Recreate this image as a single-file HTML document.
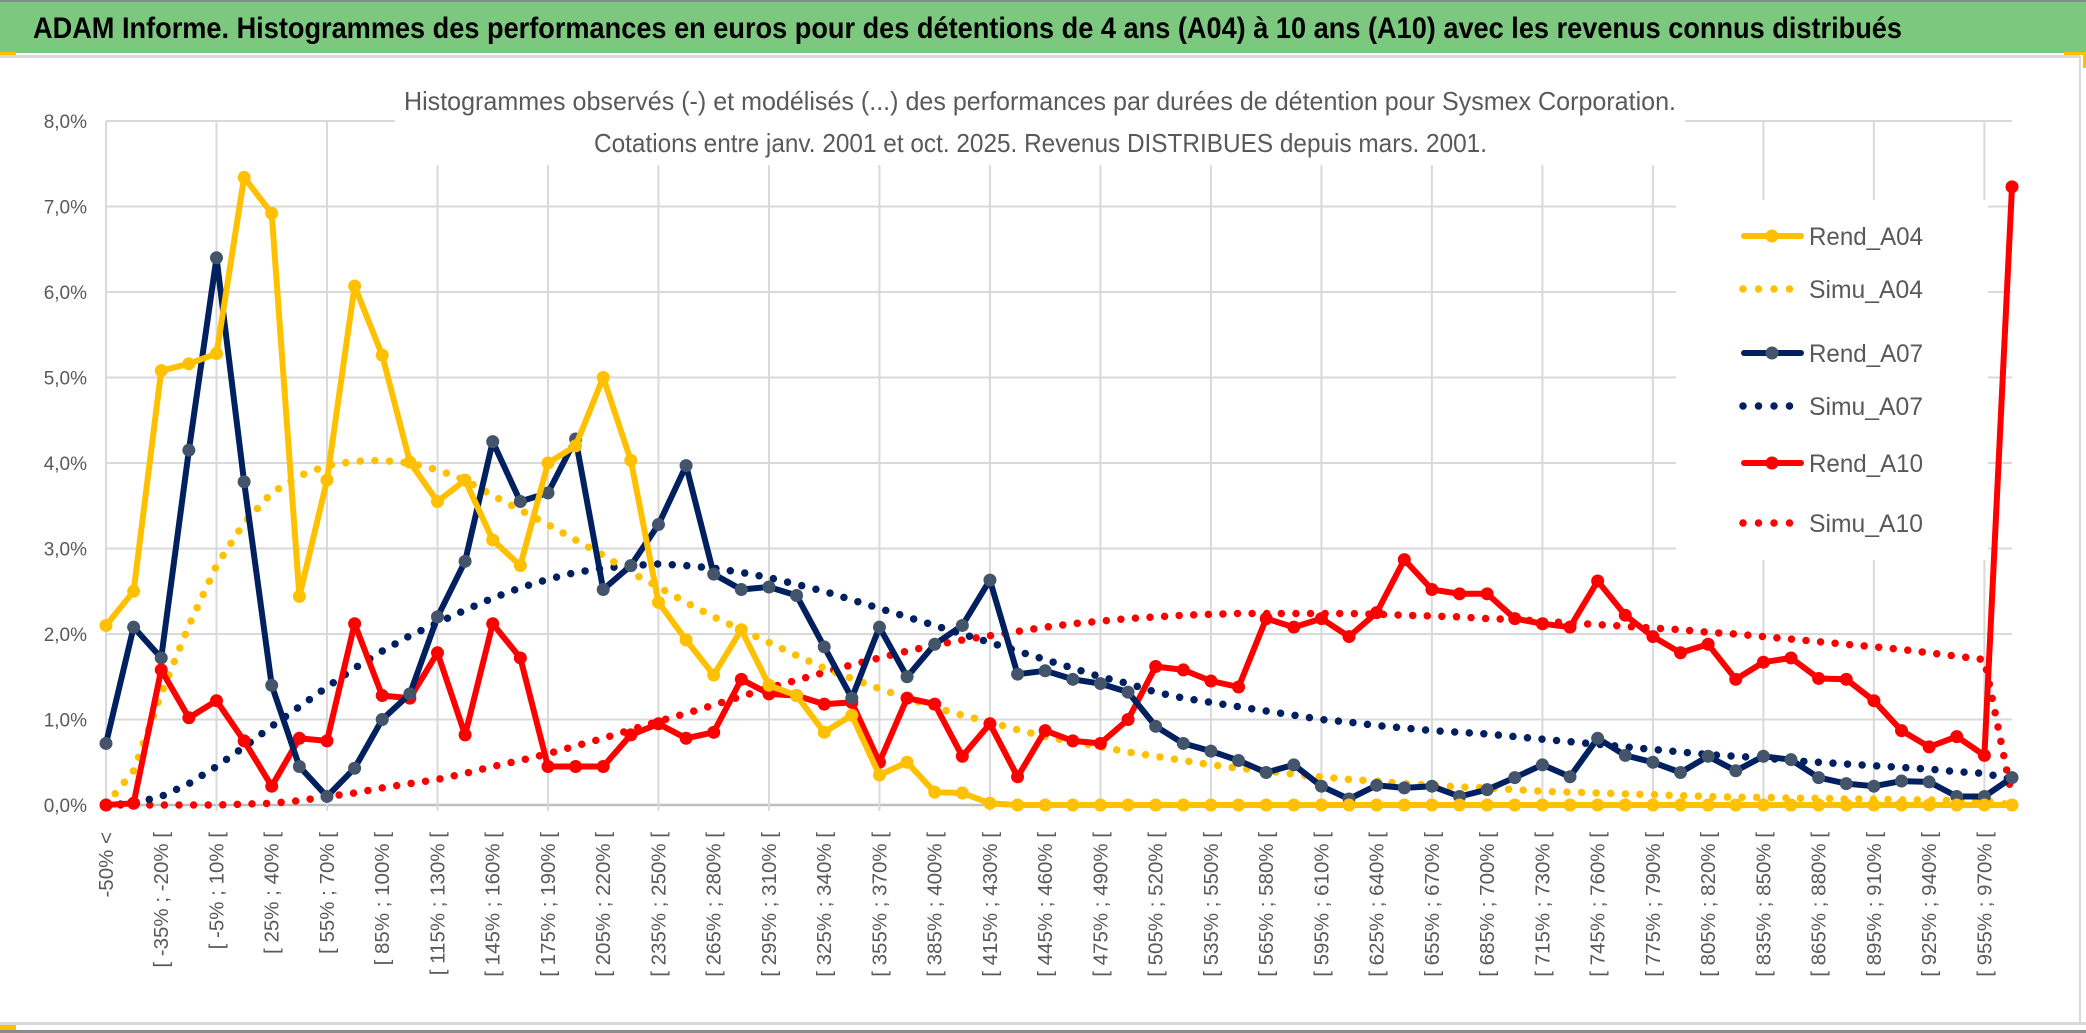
<!DOCTYPE html>
<html><head><meta charset="utf-8"><style>
html,body{margin:0;padding:0;background:#fff;}
svg{display:block;}
</style></head><body>
<svg id="chart" width="2086" height="1033" viewBox="0 0 2086 1033" xmlns="http://www.w3.org/2000/svg">
  <rect x="0" y="0" width="2086" height="1033" fill="#ffffff"/>
  <rect x="0" y="2" width="2086" height="51" fill="#7dc87f"/>
  <rect x="0" y="0" width="2086" height="2" fill="#8a8a8a"/>
  <rect x="0" y="55" width="2080" height="3" fill="#d9d9d9"/>
  <rect x="0" y="52" width="16" height="3" fill="#ffc000"/>
  <rect x="2064" y="52" width="22" height="3" fill="#ffc000"/>
  <rect x="2083" y="52" width="3" height="16" fill="#ffc000"/>
  <rect x="2079" y="56" width="2" height="968" fill="#d9d9d9"/>
  <rect x="0" y="1022" width="2086" height="3" fill="#d9d9d9"/>
  <rect x="0" y="1030" width="2086" height="3" fill="#8a8a8a"/>
  <rect x="0" y="1025" width="16" height="5" fill="#ffc000"/>
  <text x="33" y="38" font-family="Liberation Sans, sans-serif" font-weight="bold" font-size="30" fill="#000" textLength="1869" lengthAdjust="spacingAndGlyphs">ADAM Informe. Histogrammes des performances en euros pour des détentions de 4 ans (A04) à 10 ans (A10) avec les revenus connus distribués</text>
  <g id="grid"></g>
  <rect x="395" y="60" width="1290" height="105" fill="#ffffff"/>
  <text x="404" y="110" font-family="Liberation Sans, sans-serif" font-size="26" fill="#595959" textLength="1272" lengthAdjust="spacingAndGlyphs">Histogrammes observés (-) et modélisés (...) des performances par durées de détention pour Sysmex Corporation.</text>
  <text x="594" y="152" font-family="Liberation Sans, sans-serif" font-size="26" fill="#595959" textLength="893" lengthAdjust="spacingAndGlyphs">Cotations entre janv. 2001 et oct. 2025. Revenus DISTRIBUES depuis mars. 2001.</text>
  <g id="axes"></g>
  <g id="series"></g>
  <g id="legend"></g>
</svg>
<script>
const rendA04 = [2.1,2.5,5.08,5.16,5.28,7.34,6.92,2.44,3.8,6.07,5.26,4.01,3.55,3.8,3.1,2.8,4.0,4.2,5.0,4.03,2.37,1.93,1.52,2.05,1.4,1.28,0.85,1.05,0.35,0.5,0.15,0.14,0.02,0,0,0,0,0,0,0,0,0,0,0,0,0,0,0,0,0,0,0,0,0,0,0,0,0,0,0,0,0,0,0,0,0,0,0,0,0];
const simuA04 = [0,0.4,1.3,2.1,2.8,3.3,3.65,3.85,3.97,4.02,4.03,4.0,3.92,3.8,3.62,3.45,3.28,3.1,2.92,2.72,2.55,2.37,2.2,2.05,1.9,1.75,1.6,1.48,1.36,1.25,1.14,1.05,0.97,0.88,0.8,0.74,0.68,0.62,0.57,0.52,0.47,0.43,0.4,0.36,0.33,0.3,0.28,0.25,0.23,0.21,0.2,0.18,0.16,0.15,0.14,0.13,0.12,0.11,0.1,0.09,0.09,0.08,0.08,0.07,0.07,0.06,0.06,0.05,0.05,0.0];
const rendA07 = [0.72,2.08,1.72,4.15,6.4,3.78,1.4,0.45,0.1,0.43,1.0,1.3,2.2,2.85,4.25,3.55,3.65,4.28,2.52,2.8,3.28,3.97,2.7,2.52,2.55,2.45,1.85,1.25,2.08,1.5,1.88,2.1,2.63,1.53,1.57,1.47,1.42,1.32,0.92,0.72,0.63,0.52,0.38,0.47,0.22,0.07,0.23,0.2,0.22,0.1,0.18,0.32,0.47,0.33,0.78,0.58,0.5,0.38,0.57,0.4,0.57,0.53,0.32,0.25,0.22,0.28,0.27,0.1,0.1,0.32];
const simuA07 = [0,0.02,0.1,0.25,0.45,0.68,0.92,1.15,1.38,1.6,1.8,1.98,2.13,2.28,2.42,2.54,2.64,2.72,2.77,2.8,2.82,2.8,2.77,2.72,2.66,2.58,2.5,2.4,2.3,2.2,2.1,2.0,1.9,1.8,1.7,1.6,1.5,1.42,1.32,1.25,1.2,1.15,1.1,1.05,1.0,0.97,0.93,0.9,0.87,0.85,0.83,0.8,0.77,0.74,0.71,0.68,0.65,0.62,0.59,0.57,0.55,0.52,0.5,0.48,0.46,0.44,0.42,0.39,0.37,0.3];
const rendA10 = [0,0.02,1.58,1.02,1.22,0.75,0.22,0.78,0.75,2.12,1.28,1.25,1.78,0.82,2.12,1.72,0.45,0.45,0.45,0.82,0.95,0.78,0.85,1.47,1.3,1.28,1.18,1.2,0.5,1.25,1.18,0.57,0.95,0.33,0.87,0.75,0.72,1.0,1.62,1.58,1.45,1.38,2.18,2.08,2.18,1.97,2.25,2.87,2.52,2.47,2.47,2.18,2.12,2.08,2.62,2.22,1.97,1.78,1.88,1.47,1.67,1.72,1.48,1.47,1.22,0.87,0.68,0.8,0.58,7.23];
const simuA10 = [0,0,0,0,0,0.01,0.02,0.05,0.1,0.14,0.2,0.25,0.3,0.37,0.45,0.52,0.6,0.69,0.78,0.88,0.98,1.07,1.17,1.27,1.37,1.46,1.55,1.64,1.72,1.8,1.87,1.93,1.98,2.03,2.08,2.12,2.15,2.18,2.2,2.22,2.23,2.24,2.24,2.24,2.24,2.24,2.23,2.22,2.21,2.2,2.18,2.17,2.15,2.13,2.11,2.09,2.07,2.05,2.02,2.0,1.97,1.94,1.91,1.88,1.85,1.82,1.78,1.74,1.7,0.1];
const yTicks = [0,1,2,3,4,5,6,7,8];
const yTickLabels = ["0,0%","1,0%","2,0%","3,0%","4,0%","5,0%","6,0%","7,0%","8,0%"];
const legendNames = ["Rend_A04","Simu_A04","Rend_A07","Simu_A07","Rend_A10","Simu_A10"];

const NS = "http://www.w3.org/2000/svg";
const N = rendA04.length;
const X0 = 106, X1 = 2012, Y0 = 805, YTOP = 121;
function xScale(i){ return X0 + i*(X1-X0)/(N-1); }
function yScale(v){ return Y0 - v*(Y0-YTOP)/8; }
function catLabel(i){
  if(i===0) return "-50% <";
  const lo = -50 + 15*(i-1);
  if(i===N-1) return ">= " + (lo) + "%";
  return "[ " + lo + "% ; " + (lo+15) + "% [";
}
function mk(tag, attrs, parent){
  const e = document.createElementNS(NS, tag);
  for(const k in attrs) e.setAttribute(k, attrs[k]);
  parent.appendChild(e);
  return e;
}
const grid = document.getElementById('grid');
const axes = document.getElementById('axes');
const series = document.getElementById('series');
const legend = document.getElementById('legend');

yTicks.forEach((t,k)=>{
  const l = mk('line',{x1:X0,x2:X1,y1:yScale(t),y2:yScale(t),stroke:(t===0?'#bfbfbf':'#d9d9d9'),'stroke-width':(t===0?2.5:2)},grid);
  
  
  const tx = mk('text',{x:87,y:yScale(t)+7,'text-anchor':'end','font-family':'Liberation Sans, sans-serif','font-size':19,fill:'#595959'},axes);
  tx.textContent = yTickLabels[k];
  
  
});
for(let i=0;i<N;i+=4){
  const l = mk('line',{x1:xScale(i),x2:xScale(i),y1:YTOP,y2:Y0+6,stroke:'#d9d9d9','stroke-width':2},grid);
  
  
}
for(let i=0;i<N;i+=2){
  const x = xScale(i)+7, y = 832;
  const tx = mk('text',{x:x,y:y,'text-anchor':'end',transform:'rotate(-90 '+x+' '+y+')','font-family':'Liberation Sans, sans-serif','font-size':20.5,fill:'#595959'},axes);
  tx.textContent = catLabel(i);
  
  
}
function pts(arr){ return arr.map((v,i)=>xScale(i).toFixed(1)+','+yScale(v).toFixed(1)).join(' '); }
function dotted(arr, color, name){
  const p = mk('polyline',{points:pts(arr),fill:'none',stroke:color,'stroke-width':7.5,'stroke-linecap':'round','stroke-dasharray':'0 14.6'},series);
  
  
}
function solid(arr, color, mcolor, name){
  const p = mk('polyline',{points:pts(arr),fill:'none',stroke:color,'stroke-width':6,'stroke-linejoin':'round'},series);
  
  
  arr.forEach((v,i)=>{
    const c = mk('circle',{cx:xScale(i),cy:yScale(v),r:6.5,fill:mcolor},series);
    
    
  });
}
dotted(simuA10,'#ff0000','simu-a10-line');
dotted(simuA07,'#002060','simu-a07-line');
dotted(simuA04,'#ffc000','simu-a04-line');
solid(rendA10,'#ff0000','#ff0000','rend-a10-line');
solid(rendA07,'#002060','#44546a','rend-a07-line');
solid(rendA04,'#ffc000','#ffc000','rend-a04-line');

const bg = mk('rect',{x:1676,y:200,width:312,height:360,fill:'#ffffff'},legend);


const legendY = [236,289,353,406,463,523];
const legendColor = ['#ffc000','#ffc000','#002060','#002060','#ff0000','#ff0000'];
const legendMarker = ['#ffc000','#ffc000','#44546a','#44546a','#ff0000','#ff0000'];
legendNames.forEach((nm,k)=>{
  const y = legendY[k];
  if(nm.startsWith('Rend')){
    const l = mk('line',{x1:1744,x2:1801,y1:y,y2:y,stroke:legendColor[k],'stroke-width':6,'stroke-linecap':'round'},legend);
    
    
    const c = mk('circle',{cx:1772,cy:y,r:6.5,fill:legendMarker[k]},legend);
    
    
  } else {
    const l = mk('line',{x1:1743,x2:1792,y1:y,y2:y,stroke:legendColor[k],'stroke-width':7.5,'stroke-linecap':'round','stroke-dasharray':'0 15.5'},legend);
    
    
  }
  const t = mk('text',{x:1809,y:y+9,'font-family':'Liberation Sans, sans-serif','font-size':25,fill:'#595959',textLength:114,lengthAdjust:'spacingAndGlyphs'},legend);
  t.textContent = nm;
  
  
});
</script>
</body></html>
